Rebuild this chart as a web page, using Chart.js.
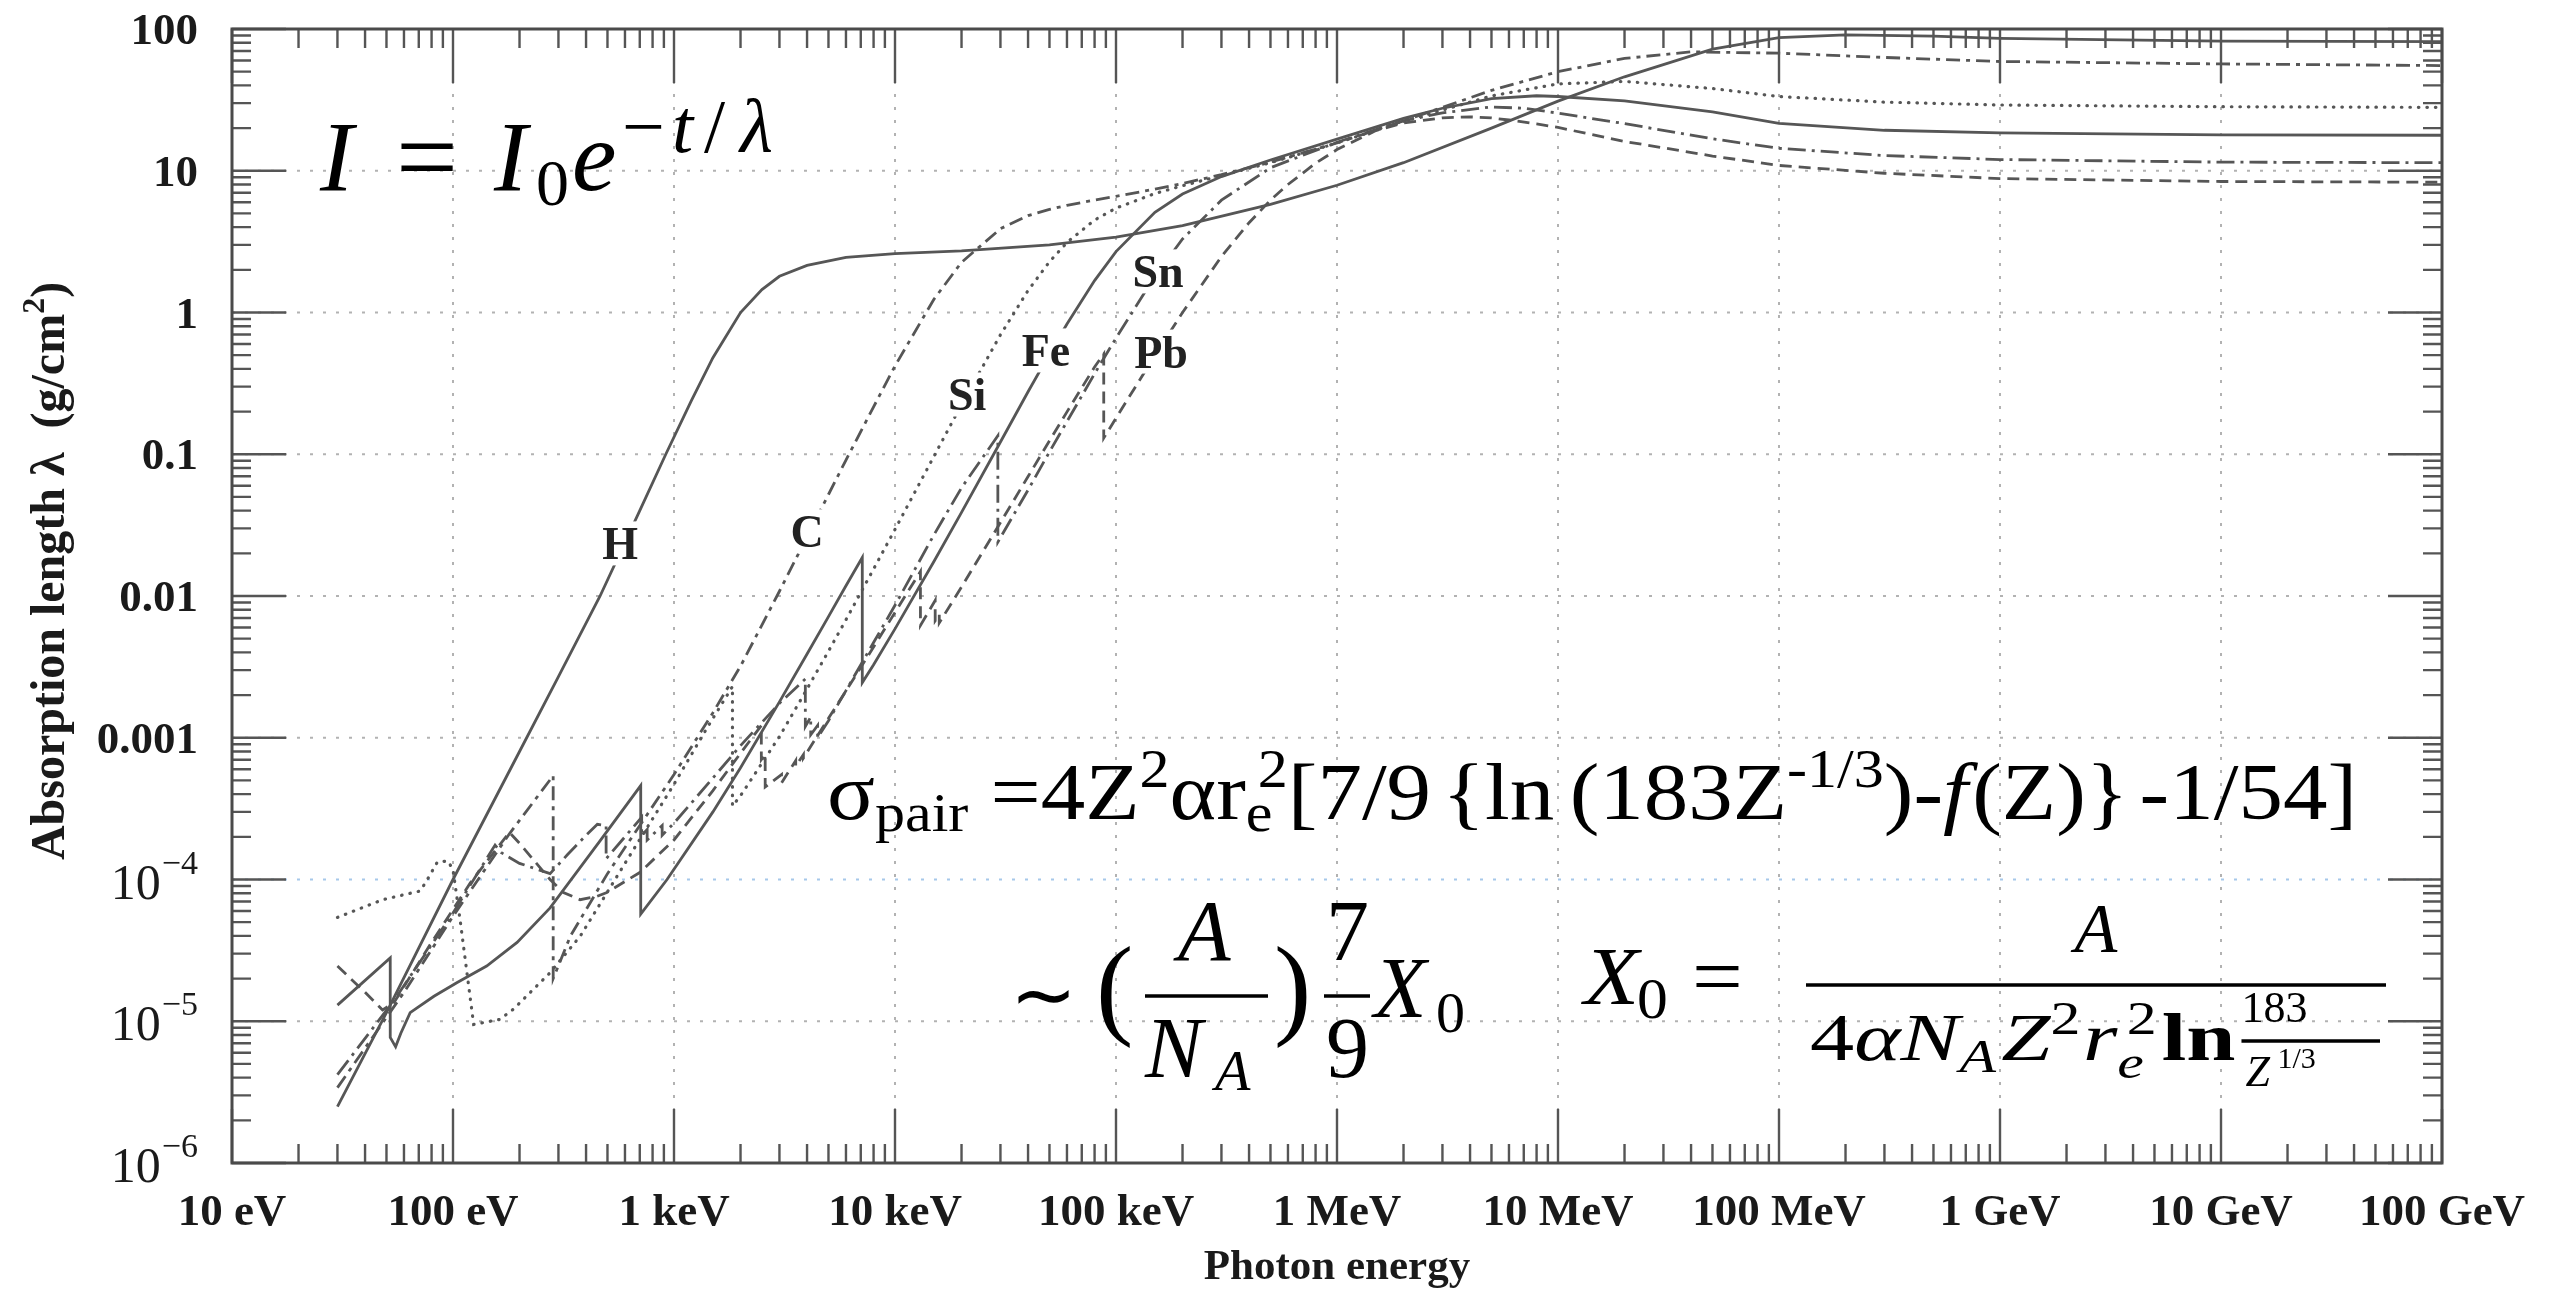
<!DOCTYPE html>
<html>
<head>
<meta charset="utf-8">
<script src="https://cdn.jsdelivr.net/npm/chart.js@4.4.1/dist/chart.umd.min.js"></script>
<style>
  html, body { margin: 0; padding: 0; background: #fff; }
  canvas { display: block; }
</style>
</head>
<body>
<canvas id="chart1" width="2558" height="1291"></canvas>
<script>
// photon absorption length vs energy, log-log
var ctx1 = document.getElementById('chart1');

// axis ticks
const energyTicks = [10, 100, 1e3, 1e4, 1e5, 1e6, 1e7, 1e8, 1e9, 1e10, 1e11];
const energyLabels = ['10 eV', '100 eV', '1 keV', '10 keV', '100 keV', '1 MeV', '10 MeV', '100 MeV', '1 GeV', '10 GeV', '100 GeV'];
const lengthTicks = [100, 10, 1, 0.1, 0.01, 0.001, 1e-4, 1e-5, 1e-6];
const lengthLabels = ['100', '10', '1', '0.1', '0.01', '0.001', '10^−4', '10^−5', '10^−6'];

// [energy (eV), lambda (g/cm2)] ; repeated energy = absorption edge
const H = [[30,2.5e-6],[50,1.15e-5],[100,1.0e-4],[200,8.0e-4],[300,2.7e-3],[463,0.01],[700,0.04],[918,0.1],[1200,0.24],[1500,0.48],[2000,1.0],[2500,1.45],[3000,1.8],[4000,2.15],[6000,2.45],[10000,2.6],[20000,2.72],[50000,3.0],[100000,3.4],[200000,4.1],[500000,5.8],[1e6,7.9],[2e6,11.4],[5e6,20],[1e7,31],[2e7,46],[5e7,72],[1e8,87],[2e8,91],[5e8,89],[1e9,86],[1e10,82],[1e11,81.5]];

const C = [[30,3.4e-6],[60,1.6e-5],[100,5.5e-5],[180,2.1e-4],[284,5.4e-4],[284,2.0e-5],[340,4.0e-5],[500,1.1e-4],[1000,5.5e-4],[1500,1.5e-3],[2000,3.2e-3],[3000,0.0108],[4000,0.0262],[5000,0.052],[6000,0.091],[8000,0.216],[10000,0.42],[15000,1.24],[20000,2.26],[30000,3.9],[40000,4.82],[50000,5.34],[60000,5.7],[80000,6.21],[100000,6.6],[150000,7.42],[200000,8.14],[300000,9.38],[500000,11.5],[1e6,15.7],[2e6,22.5],[5e6,36.9],[1e7,50],[2e7,62],[4e7,69],[1e8,67.5],[3e8,63],[1e9,59],[1e10,56.7],[1e11,55.2]];

const Si = [[30,5.4e-5],[48,7.2e-5],[71,8.3e-5],[76,9.8e-5],[85,1.33e-4],[95,1.35e-4],[100,1.17e-4],[108,5.0e-5],[124,9.5e-6],[163,1.03e-5],[188,1.22e-5],[231,1.68e-5],[275,2.2e-5],[377,4.0e-5],[600,1.3e-4],[1000,4.7e-4],[1400,1.15e-3],[1839,2.3e-3],[1839,3.3e-4],[2000,3.9e-4],[3000,1.02e-3],[4000,2.21e-3],[5000,4.08e-3],[6000,6.8e-3],[8000,0.0155],[10000,0.0295],[15000,0.0967],[20000,0.224],[30000,0.696],[40000,1.43],[50000,2.28],[60000,3.12],[80000,4.49],[100000,5.45],[150000,6.91],[200000,7.84],[300000,9.24],[500000,11.4],[1e6,15.7],[2e6,22.3],[5e6,33.7],[1e7,41],[2e7,42.7],[5e7,38],[1e8,33.4],[3e8,30.5],[1e9,29.1],[1e10,28.3],[1e11,28]];

const Fe = [[30,1.3e-5],[52,2.8e-5],[52,7.7e-6],[55,6.6e-6],[58,8.2e-6],[64,1.15e-5],[82,1.5e-5],[104,1.87e-5],[142,2.45e-5],[195,3.6e-5],[275,6.3e-5],[460,1.85e-4],[707,4.6e-4],[707,5.7e-5],[930,1.0e-4],[1500,3.0e-4],[2000,6.15e-4],[3000,1.79e-3],[4000,3.9e-3],[5000,7.15e-3],[6000,0.0118],[7112,0.0187],[7112,2.45e-3],[8000,3.27e-3],[10000,5.86e-3],[15000,0.0175],[20000,0.0389],[30000,0.122],[40000,0.276],[50000,0.511],[60000,0.83],[80000,1.68],[100000,2.69],[150000,5.09],[200000,6.85],[300000,9.1],[500000,11.9],[1e6,16.7],[2e6,23.4],[3e6,27.6],[5e6,32.3],[8e6,33.8],[1e7,33.4],[2e7,31.1],[5e7,26],[1e8,21.6],[3e8,19.3],[1e9,18.5],[1e10,17.9],[1e11,17.8]];

const Sn = [[30,4.2e-6],[54,1.4e-5],[100,5.8e-5],[155,1.75e-4],[165,1.55e-4],[200,1.3e-4],[275,1.1e-4],[330,1.5e-4],[400,2.05e-4],[450,2.45e-4],[493,2.4e-4],[493,1.4e-4],[714,2.75e-4],[714,2.05e-4],[756,2.25e-4],[756,1.9e-4],[884,2.4e-4],[884,2.05e-4],[1000,2.5e-4],[1500,5.2e-4],[2000,8.8e-4],[3000,1.75e-3],[3929,2.6e-3],[3929,1.2e-3],[4156,1.4e-3],[4156,1.05e-3],[4465,1.22e-3],[4465,1.0e-3],[5000,1.32e-3],[6000,2.15e-3],[8000,4.7e-3],[10000,8.6e-3],[15000,0.027],[20000,0.058],[29200,0.135],[29200,0.024],[40000,0.056],[50000,0.104],[60000,0.17],[80000,0.37],[100000,0.66],[150000,1.8],[200000,3.3],[300000,6.2],[500000,10.5],[1e6,15.9],[2e6,22.5],[3e6,25.6],[5e6,28.2],[7e6,27.6],[1e7,25.5],[2e7,21.5],[5e7,16.8],[1e8,14.4],[3e8,12.8],[1e9,12.0],[1e10,11.5],[1e11,11.4]];

const Pb = [[30,2.45e-5],[40,1.6e-5],[48,1.2e-5],[54,1.35e-5],[80,3.6e-5],[120,9.5e-5],[180,2.15e-4],[200,1.8e-4],[275,1.0e-4],[316,8.1e-5],[376,7.2e-5],[447,7.6e-5],[497,8.1e-5],[700,1.12e-4],[1000,1.9e-4],[1500,4.24e-4],[2000,7.78e-4],[2484,1.22e-3],[2484,7.0e-4],[2586,7.6e-4],[2586,4.5e-4],[3066,5.5e-4],[3066,4.8e-4],[3554,6.9e-4],[3554,6.3e-4],[3851,7.6e-4],[3851,7.2e-4],[5000,1.37e-3],[6000,2.14e-3],[8000,4.37e-3],[10000,7.66e-3],[13035,0.0149],[13035,6.2e-3],[15200,9.3e-3],[15200,6.7e-3],[15861,7.4e-3],[15861,6.46e-3],[20000,0.01158],[30000,0.033],[40000,0.0696],[50000,0.1244],[60000,0.199],[80000,0.413],[88004,0.51],[88004,0.13],[100000,0.18],[150000,0.497],[200000,1.0],[300000,2.48],[400000,4.3],[500000,6.2],[600000,8.0],[800000,11.3],[1e6,14.1],[1.5e6,19.2],[2e6,21.7],[3e6,23.6],[4e6,24.0],[5e6,23.6],[6e6,22.8],[8e6,21.4],[1e7,20.2],[1.5e7,17.7],[2e7,16.1],[5e7,12.7],[1e8,10.9],[3e8,9.6],[1e9,8.8],[1e10,8.4],[1e11,8.3]];

// element name tags, anchored in data coordinates
const tagNames = ['H', 'C', 'Si', 'Fe', 'Sn', 'Pb'];
const tagEnergy = [570, 4000, 21200, 48200, 155000, 160000];
const tagLength = [0.0235, 0.0286, 0.264, 0.54, 1.95, 0.53];

const serif = '"Liberation Serif", "Times New Roman", serif';
const lineColor = '#565656';

function curve(label, points, dash, cap) {
    return {
        label: label,
        data: points.map(p => ({x: p[0], y: p[1]})),
        borderColor: lineColor,
        borderWidth: cap ? 3.2 : 2.8,
        borderDash: dash,
        borderCapStyle: cap || 'butt',
        pointRadius: 0,
        tension: 0,
        fill: false
    };
}

function text(ctx, str, font, x, y, align) {
    ctx.font = font + ' ' + serif;
    ctx.textAlign = align || 'left';
    ctx.fillText(str, x, y);
}

function hline(ctx, x0, x1, y) {
    ctx.beginPath(); ctx.moveTo(x0, y); ctx.lineTo(x1, y); ctx.stroke();
}

// a run of text pieces laid out left to right; adv < 1 lets the next piece overlap (sub + sup)
function measureRuns(ctx, runs) {
    let w = 0;
    runs.forEach(r => {
        ctx.font = r.f + ' ' + serif;
        r.w = ctx.measureText(r.t).width;
        w += (r.gap || 0) + r.w * (r.adv === undefined ? 1 : r.adv);
    });
    return w;
}
function drawRuns(ctx, runs, x0, y0, sx) {
    ctx.save();
    ctx.translate(x0, y0);
    ctx.scale(sx, 1);
    ctx.textAlign = 'left';
    let x = 0;
    runs.forEach(r => {
        x += r.gap || 0;
        ctx.font = r.f + ' ' + serif;
        ctx.fillText(r.t, x, r.dy || 0);
        x += r.w * (r.adv === undefined ? 1 : r.adv);
    });
    ctx.restore();
    return x0 + x * sx;
}

// I = I0 e^{-t/lambda}: [text, font, x, baseline]
const formulaExp = [
    ['I', 'italic 100px', 320, 190], ['=', '110px', 396, 194], ['I', 'italic 100px', 494, 190],
    ['0', '66px', 536, 205], ['e', 'italic 100px', 572, 190],
    ['−', '76px', 622, 152], ['t', 'italic 76px', 672, 152], ['/', '76px', 704, 152], ['λ', 'italic 76px', 740, 152]
];
const M = '80px', S = '54px';
const formulaPair = [
    {t: 'σ', f: M}, {t: 'pair', f: S, dy: 12}, {t: ' =', f: M}, {t: '4Z', f: M}, {t: '2', f: S, dy: -32},
    {t: 'αr', f: M}, {t: 'e', f: S, dy: 12, adv: 0.45}, {t: '2', f: S, dy: -32},
    {t: '[7/9', f: M}, {t: '{ln', f: M, gap: 10}, {t: '(183Z', f: M, gap: 14}, {t: '-1/3', f: S, dy: -32},
    {t: ')-', f: M}, {t: 'f', f: 'italic ' + M}, {t: '(Z)}', f: M, gap: 4}, {t: '-1/54]', f: M, gap: 10}
];
const formulaApprox = [
    ['∼', '80px', 1010, 1022], ['(', '112px', 1096, 1024], ['A', 'italic 86px', 1178, 960],
    ['N', 'italic 86px', 1145, 1077], ['A', 'italic 58px', 1215, 1090], [')', '112px', 1274, 1024],
    ['7', '86px', 1326, 960], ['9', '86px', 1326, 1077], ['X', 'italic 86px', 1374, 1017], ['0', '58px', 1436, 1032]
];
const formulaX0 = [{t: 'X', f: 'italic 82px'}, {t: '0', f: '56px', dy: 14, gap: -2}, {t: '=', f: '82px', gap: 22}];
const formulaDen = [
    {t: '4', f: '68px'}, {t: 'α', f: 'italic 68px'}, {t: 'N', f: 'italic 68px'}, {t: 'A', f: 'italic 46px', dy: 12},
    {t: 'Z', f: 'italic 68px', gap: 4}, {t: '2', f: '46px', dy: -26}, {t: 'r', f: 'italic 68px', gap: 2},
    {t: 'e', f: 'italic 46px', dy: 18, adv: 0.35}, {t: '2', f: '46px', dy: -26}, {t: 'ln', f: 'bold 68px', gap: 4}
];

const decorations = {
    id: 'decorations',
    beforeDatasetsDraw(chart) {
        const {ctx, chartArea: a, scales: {x, y}} = chart;
        ctx.save();
        ctx.lineWidth = 2;
        ctx.setLineDash([3, 10]);
        energyTicks.forEach(v => {
            const px = x.getPixelForValue(v);
            if (px < a.left + 2 || px > a.right - 2) return;
            ctx.strokeStyle = '#b2b2b2';
            ctx.beginPath(); ctx.moveTo(px, a.top); ctx.lineTo(px, a.bottom); ctx.stroke();
        });
        lengthTicks.forEach(v => {
            const py = y.getPixelForValue(v);
            if (py < a.top + 2 || py > a.bottom - 2) return;
            ctx.strokeStyle = v === 1e-4 ? '#a6c8ea' : '#b2b2b2';
            hline(ctx, a.left, a.right, py);
        });
        ctx.restore();
    },
    afterDatasetsDraw(chart) {
        const {ctx, chartArea: a, scales: {x, y}} = chart;
        ctx.save();
        ctx.textBaseline = 'alphabetic';

        // element tags knock out the curves behind them
        tagNames.forEach((name, i) => {
            const px = x.getPixelForValue(tagEnergy[i]);
            const py = y.getPixelForValue(tagLength[i]);
            ctx.font = 'bold 46px ' + serif;
            const w = ctx.measureText(name).width;
            ctx.fillStyle = '#fff';
            ctx.fillRect(px - w / 2 - 4, py - 22, w + 8, 44);
            ctx.fillStyle = '#222';
            text(ctx, name, 'bold 46px', px, py + 16, 'center');
        });

        // formulas
        ctx.fillStyle = '#000';
        formulaExp.concat(formulaApprox).forEach(p => text(ctx, p[0], p[1], p[2], p[3]));

        const wPair = measureRuns(ctx, formulaPair);
        drawRuns(ctx, formulaPair, 827, 819, Math.min(1.2, 1530 / wPair));

        measureRuns(ctx, formulaX0);
        drawRuns(ctx, formulaX0, 1584, 1004, 1.1);

        // X0 fraction
        const barL = 1806, barR = 2386;
        text(ctx, 'A', 'italic 70px', (barL + barR) / 2, 952, 'center');
        ctx.font = '44px ' + serif;
        const w183 = ctx.measureText('183').width;
        const wDen = measureRuns(ctx, formulaDen);
        const sDen = Math.min(1.3, (barR - barL - 10) / (wDen + 8 + w183));
        const end = drawRuns(ctx, formulaDen, barL + 4, 1060, sDen) + 6;
        text(ctx, '183', '44px', end, 1022);
        text(ctx, 'Z', 'italic 44px', end + 4, 1086);
        text(ctx, '1/3', '30px', end + 36, 1068);

        ctx.strokeStyle = '#000';
        ctx.lineWidth = 3.5;
        ctx.setLineDash([]);
        hline(ctx, 1145, 1268, 996);
        hline(ctx, 1324, 1370, 996);
        hline(ctx, barL, barR, 985);
        hline(ctx, end, barR - 6, 1041);

        // tick marks on all four sides
        ctx.strokeStyle = '#555';
        ctx.lineWidth = 2.4;
        const major = 54, minor = 19;
        const tickX = (v, len) => {
            const px = x.getPixelForValue(v);
            ctx.beginPath();
            ctx.moveTo(px, a.bottom); ctx.lineTo(px, a.bottom - len);
            ctx.moveTo(px, a.top); ctx.lineTo(px, a.top + len);
            ctx.stroke();
        };
        const tickY = (v, len) => {
            const py = y.getPixelForValue(v);
            ctx.beginPath();
            ctx.moveTo(a.left, py); ctx.lineTo(a.left + len, py);
            ctx.moveTo(a.right, py); ctx.lineTo(a.right - len, py);
            ctx.stroke();
        };
        energyTicks.forEach((v, i) => {
            tickX(v, major);
            if (i < energyTicks.length - 1) for (let k = 2; k <= 9; k++) tickX(v * k, minor);
        });
        lengthTicks.forEach((v, i) => {
            tickY(v, major);
            if (i < lengthTicks.length - 1) for (let k = 2; k <= 9; k++) tickY(lengthTicks[i + 1] * k, minor);
        });

        // frame
        ctx.strokeStyle = '#4a4a4a';
        ctx.lineWidth = 3;
        ctx.strokeRect(a.left, a.top, a.right - a.left, a.bottom - a.top);

        // tick labels
        ctx.fillStyle = '#1a1a1a';
        energyTicks.forEach((v, i) => {
            text(ctx, energyLabels[i], 'bold 45px', x.getPixelForValue(v), a.bottom + 62, 'center');
        });
        const right = a.left - 34;
        lengthTicks.forEach((v, i) => {
            const py = y.getPixelForValue(v);
            const parts = lengthLabels[i].split('^');
            if (parts.length === 2) {
                ctx.font = '34px ' + serif;
                const we = ctx.measureText(parts[1]).width;
                text(ctx, parts[1], '34px', right - we, py - 6);
                text(ctx, parts[0], '50px', right - we - 1, py + 19, 'right');
            } else {
                text(ctx, parts[0], 'bold 45px', right, py + 15, 'right');
            }
        });

        // axis titles
        text(ctx, 'Photon energy', 'bold 43px', (a.left + a.right) / 2, 1279, 'center');
        ctx.save();
        ctx.translate(64, 571);
        ctx.rotate(-Math.PI / 2);
        ctx.font = 'bold 48px ' + serif;
        const t1 = 'Absorption length λ  (g/cm';
        const w1 = ctx.measureText(t1).width;
        ctx.font = 'bold 32px ' + serif;
        const w2 = ctx.measureText('2').width;
        ctx.font = 'bold 48px ' + serif;
        const w3 = ctx.measureText(')').width;
        let sx = -(w1 + w2 + w3) / 2;
        text(ctx, t1, 'bold 48px', sx, 0);
        text(ctx, '2', 'bold 32px', sx + w1, -20);
        text(ctx, ')', 'bold 48px', sx + w1 + w2, 0);
        ctx.restore();

        ctx.restore();
    }
};

const dotted = [0.5, 8];
let config = {
    type: 'line',
    data: {
        datasets: [
            curve('H', H, []),
            curve('C', C, [14, 6, 4, 6]),
            curve('Si', Si, dotted, 'round'),
            curve('Fe', Fe, []),
            curve('Sn', Sn, [18, 6, 3, 6]),
            curve('Pb', Pb, [12, 7])
        ]
    },
    options: {
        responsive: false,
        devicePixelRatio: 1,
        animation: false,
        layout: { padding: { left: 232, top: 29, right: 116, bottom: 128 } },
        plugins: { legend: { display: false }, tooltip: { enabled: false } },
        scales: {
            x: { type: 'logarithmic', min: 10, max: 1e11, display: false },
            y: { type: 'logarithmic', min: 1e-6, max: 100, display: false }
        }
    },
    plugins: [decorations]
};

let chart1 = new Chart(ctx1, config);
</script>
</body>
</html>
